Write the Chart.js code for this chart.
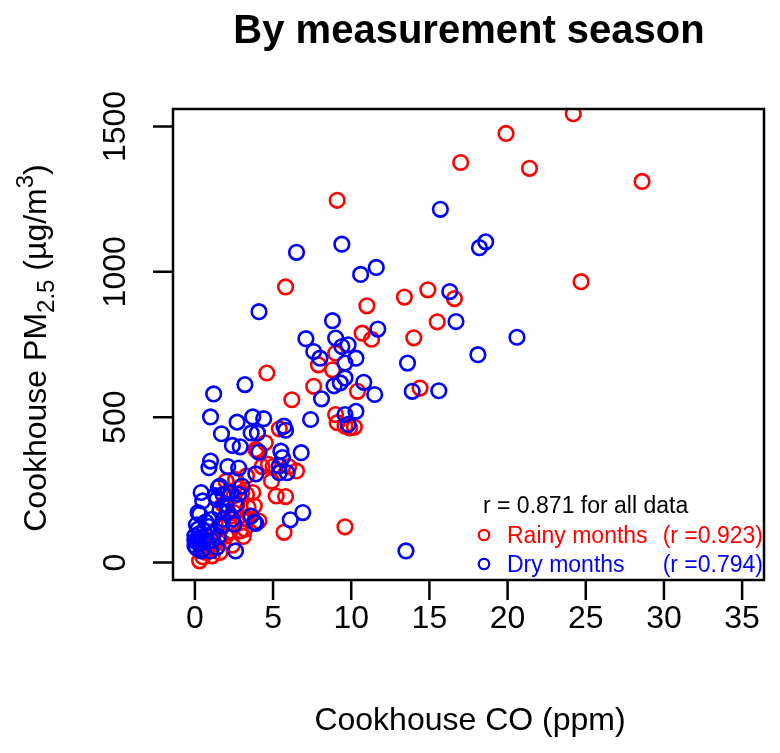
<!DOCTYPE html>
<html>
<head>
<meta charset="utf-8">
<script src="https://cdn.jsdelivr.net/npm/chart.js@4/dist/chart.umd.min.js"></script>
<style>
  body { margin: 0; background: #fff; }
  canvas { display: block; }
</style>
</head>
<body>
<canvas id="chart" width="780" height="753"></canvas>
<script>
// rainy months: CO (ppm) and PM2.5 (ug/m3)
const rainyCO = [24.2, 19.9, 17.0, 21.4, 28.6, 24.7, 9.1, 5.8, 13.4, 14.9, 16.6, 11.0, 15.5, 14.0, 10.7, 11.3,
  9.0, 7.9, 8.8, 4.6, 7.6, 10.4, 14.4, 6.2, 9.0, 9.1, 9.9, 10.2, 9.6, 4.5, 4.0, 4.7, 4.9, 5.2, 5.8, 6.5,
  5.7, 9.6, 3.7, 3.8, 3.5, 4.1, 3.2, 1.6, 0.3, 2.2, 3.3, 3.3, 2.9, 2.0, 2.5, 2.6, 3.3, 2.8, 2.2, 1.8,
  1.1, 0.7, 5.4, 5.0, 3.9, 1.2, 1.5, 2.3, 1.8, 2.5, 3.0, 2.0, 1.7, 3.4, 3.0, 2.7, 0.9, 2.4, 1.3, 0.5,
  3.1, 4.3, 6.0];
const rainyPM = [1544, 1476, 1376, 1356, 1311, 966, 1246, 948, 913, 938, 908, 883, 828, 773, 789, 768,
  720, 680, 663, 652, 606, 589, 600, 560, 509, 481, 463, 466, 469, 412, 383, 338, 280, 229, 227, 315,
  104, 123, 241, 195, 160, 143, 115, 35, 6, 104, 235, 149, 109, 92, 172, 286, 298, 255, 138, 69,
  23, 35, 460, 330, 389, 60, 80, 160, 200, 230, 150, 280, 120, 190, 240, 200, 50, 60, 110, 20,
  90, 330, 330];

// dry months
const dryCO = [15.7, 9.4, 6.5, 10.6, 11.6, 4.1, 16.3, 16.7, 8.8, 11.7, 7.1, 9.0, 9.8, 9.4, 18.6, 18.2,
  20.6, 18.1, 15.6, 7.6, 8.0, 10.3, 9.6, 13.6, 9.6, 9.3, 8.9, 10.8, 8.1, 11.5, 13.9, 3.2, 1.2, 1.0,
  1.7, 2.7, 3.7, 4.4, 3.6, 4.0, 5.7, 5.8, 7.4, 10.3, 9.6, 9.8, 2.4, 2.9, 4.1, 5.5, 5.6, 6.8, 1.0, 0.9,
  2.1, 2.8, 3.9, 5.4, 5.9, 5.4, 6.9, 6.1, 3.9, 2.6, 13.5, 0.4, 0.5, 0.2, 1.6, 1.4, 2.1, 2.6, 2.1, 2.5,
  1.8, 0.9, 1.1, 1.7, 3.0, 2.8, 2.3, 1.8, 1.5, 2.4, 3.6, 3.8, 0.3, 0.2, 0.0, 0.0, 0.3, 0.5, 1.1, 1.4,
  0.7, 0.1, 0.2, 0.4, 0.6, 0.8, 1.2, 0.1, 0.7, 1.5, 0.3, 1.0, 1.6, 2.0, 1.3, 0.0];
const dryPM = [1215, 1095, 1067, 991, 1015, 863, 932, 829, 832, 803, 770, 772, 749, 743, 1103, 1083,
  775, 715, 591, 726, 703, 703, 686, 686, 635, 618, 608, 620, 563, 578, 589, 612, 580, 501,
  443, 483, 501, 495, 446, 446, 469, 455, 492, 520, 509, 475, 403, 398, 380, 383, 361, 378, 349, 326,
  330, 325, 305, 309, 309, 332, 172, 147, 135, 40, 40, 241, 212, 172, 263, 218, 241, 200, 175, 132,
  149, 124, 149, 126, 263, 235, 241, 235, 258, 149, 160, 138, 166, 115, 92, 58, 69, 46, 75, 52,
  92, 50, 80, 40, 110, 70, 100, 130, 140, 90, 100, 40, 180, 200, 230, 75];

const xTicks = [0, 5, 10, 15, 20, 25, 30, 35];
const yTicks = [0, 500, 1000, 1500];
const legendRows = [
  { label: "Rainy months", r: "(r =0.923)", color: "#ff0000" },
  { label: "Dry months", r: "(r =0.794)", color: "#0000ff" }
];

const toPoints = (xs, ys) => xs.map((x, i) => ({ x: x, y: ys[i] }));
const FONT = "'Liberation Sans', Arial, Helvetica, sans-serif";

const rPlot = {
  id: "rPlot",
  afterDraw(chart) {
    const ctx = chart.ctx, a = chart.chartArea;
    const sx = chart.scales.x, sy = chart.scales.y;
    ctx.save();
    ctx.strokeStyle = "#000";
    ctx.fillStyle = "#000";
    ctx.lineWidth = 2.5;
    ctx.strokeRect(a.left, a.top, a.right - a.left, a.bottom - a.top);

    // ticks
    ctx.beginPath();
    xTicks.forEach(v => {
      const px = sx.getPixelForValue(v);
      ctx.moveTo(px, a.bottom); ctx.lineTo(px, a.bottom + 20);
    });
    yTicks.forEach(v => {
      const py = sy.getPixelForValue(v);
      ctx.moveTo(a.left, py); ctx.lineTo(a.left - 20, py);
    });
    ctx.stroke();

    ctx.font = "32px " + FONT;
    ctx.textAlign = "center";
    ctx.textBaseline = "alphabetic";
    xTicks.forEach(v => ctx.fillText(String(v), sx.getPixelForValue(v), 628));
    yTicks.forEach(v => {
      ctx.save();
      ctx.translate(125, sy.getPixelForValue(v));
      ctx.rotate(-Math.PI / 2);
      ctx.fillText(String(v), 0, 0);
      ctx.restore();
    });

    // title and x label
    ctx.font = "bold 40px " + FONT;
    ctx.fillText("By measurement season", 469, 43);
    ctx.font = "32px " + FONT;
    ctx.fillText("Cookhouse CO (ppm)", 470, 730);

    // y label with sub/superscript
    const parts = [
      { t: "Cookhouse PM", s: 32, dy: 0 },
      { t: "2.5", s: 24, dy: 8 },
      { t: " (\u00b5g/m", s: 32, dy: 0 },
      { t: "3", s: 24, dy: -13 },
      { t: ")", s: 32, dy: 0 }
    ];
    let total = 0;
    parts.forEach(p => { ctx.font = p.s + "px " + FONT; p.w = ctx.measureText(p.t).width; total += p.w; });
    ctx.save();
    ctx.translate(46, 348);
    ctx.rotate(-Math.PI / 2);
    ctx.textAlign = "left";
    let cx = -total / 2;
    parts.forEach(p => {
      ctx.font = p.s + "px " + FONT;
      ctx.fillText(p.t, cx, p.dy);
      cx += p.w;
    });
    ctx.restore();

    // legend
    ctx.font = "23px " + FONT;
    ctx.textAlign = "left";
    ctx.fillText("r = 0.871 for all data", 483, 513);
    legendRows.forEach((row, i) => {
      const yb = 543 + i * 29;
      ctx.strokeStyle = row.color;
      ctx.fillStyle = row.color;
      ctx.lineWidth = 2.3;
      ctx.beginPath();
      ctx.arc(484, yb - 8, 5.2, 0, Math.PI * 2);
      ctx.stroke();
      ctx.textAlign = "left";
      ctx.fillText(row.label, 507, yb);
      ctx.textAlign = "right";
      ctx.fillText(row.r, 763, yb);
    });
    ctx.restore();
  }
};

new Chart(document.getElementById("chart"), {
  type: "scatter",
  data: {
    datasets: [
      {
        label: "Dry months",
        data: toPoints(dryCO, dryPM),
        borderColor: "#0000ff",
        backgroundColor: "rgba(0,0,0,0)",
        pointRadius: 7.3,
        borderWidth: 2.6,
        order: 0
      },
      {
        label: "Rainy months",
        data: toPoints(rainyCO, rainyPM),
        borderColor: "#ff0000",
        backgroundColor: "rgba(0,0,0,0)",
        pointRadius: 7.3,
        borderWidth: 2.6,
        order: 1
      }
    ]
  },
  options: {
    responsive: false,
    animation: false,
    devicePixelRatio: 1,
    layout: { padding: { left: 173, right: 16, top: 109, bottom: 173 } },
    plugins: { legend: { display: false }, tooltip: { enabled: false } },
    scales: {
      x: { type: "linear", min: -1.4, max: 36.4, display: false },
      y: { type: "linear", min: -60, max: 1560, display: false }
    }
  },
  plugins: [rPlot]
});
</script>
</body>
</html>
